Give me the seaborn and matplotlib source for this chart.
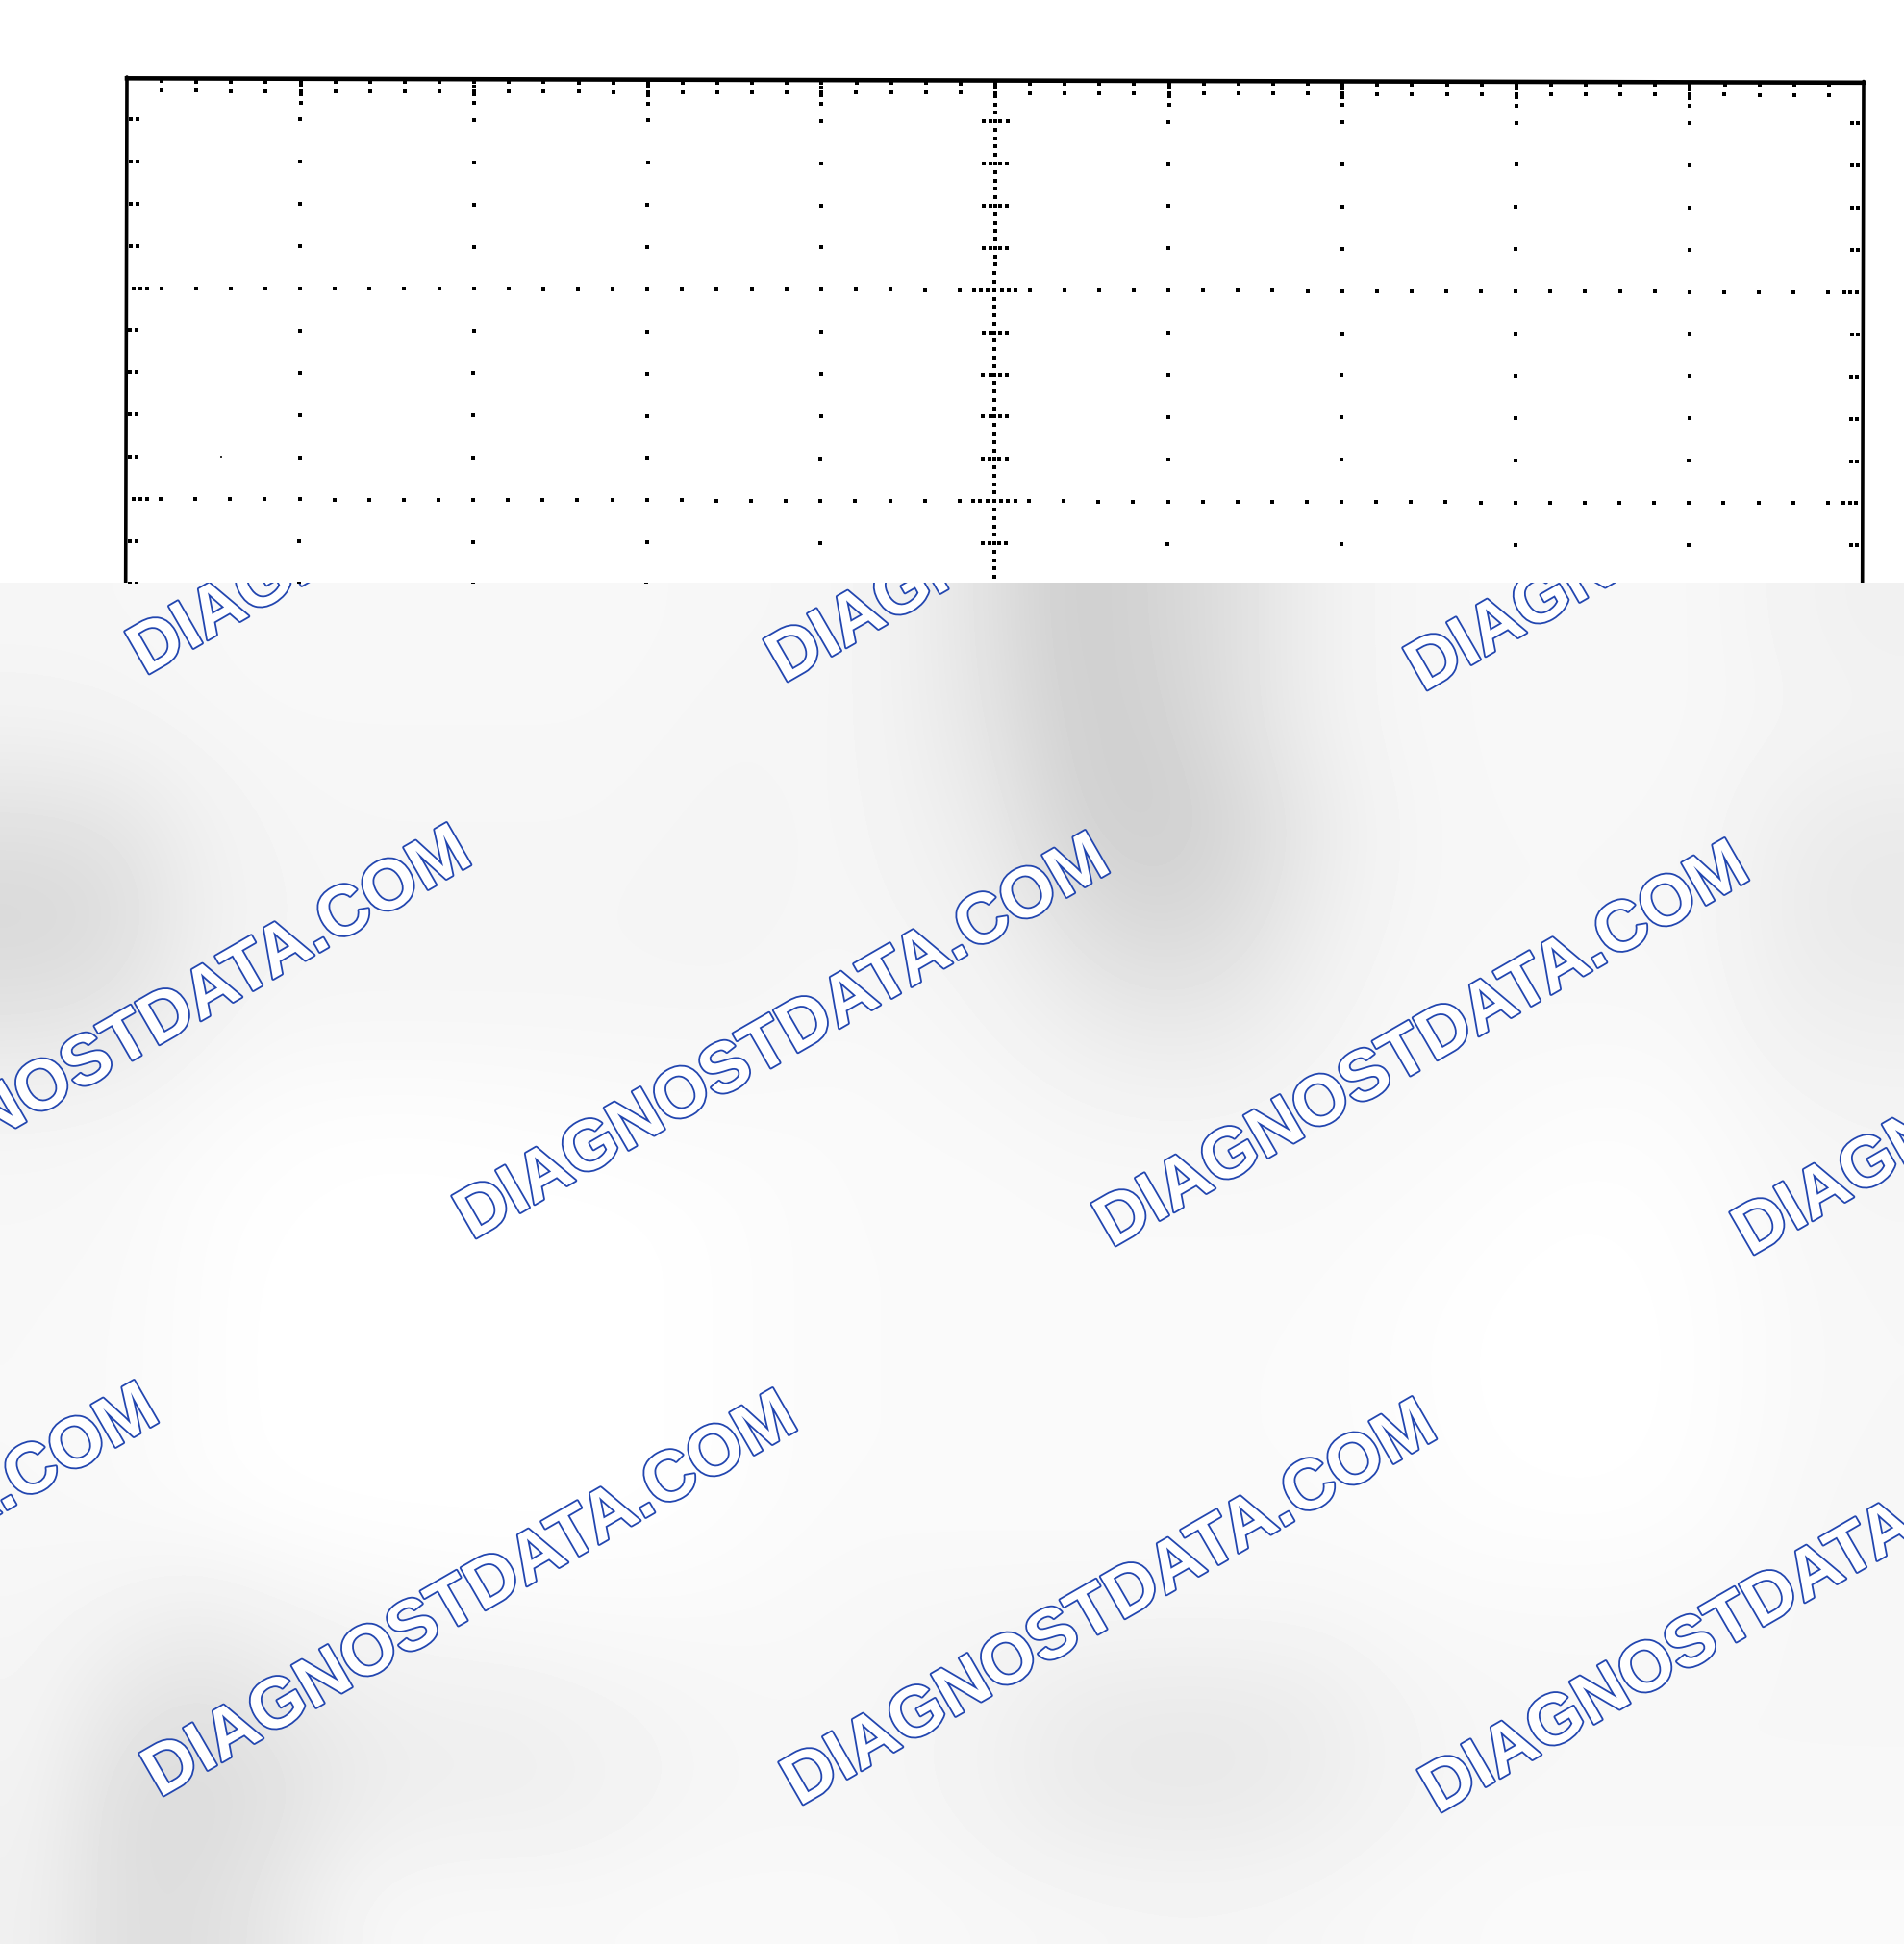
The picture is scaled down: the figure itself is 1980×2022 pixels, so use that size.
import numpy as np
import pandas as pd
import matplotlib
matplotlib.use("Agg")
import matplotlib.pyplot as plt
import matplotlib.patheffects as pe
from matplotlib.transforms import Affine2D
import seaborn as sns

# scope graticule, in divisions
x_major = [0, 1, 2, 3, 4, 5, 6, 7, 8, 9, 10]
y_major = [0, 1, 2]
x_minor_step = 0.2
y_minor_step = 0.2
y_sub_step = 0.04
x_sub_step = 0.04
top_tick_rows = [0.02, 0.065]
left_tick_cols = [0.022, 0.061]
right_tick_cols = [9.935, 9.968]
left_major_cols = [0.044, 0.081, 0.12]
right_major_cols = [9.89, 9.927, 9.964]
center_row_offsets = [-0.065, -0.025, 0.03, 0.07]
speck_x = [0.55]
speck_y = [1.80]

# blurred grey backdrop below the scan, rows top to bottom
backdrop = [
    [246, 246, 247, 248, 248, 248, 248, 248, 247, 246, 246, 240, 225, 205, 212, 222, 238, 246, 247, 248, 248, 247, 243, 240],
    [242, 244, 246, 247, 247, 247, 247, 247, 246, 245, 246, 240, 228, 208, 208, 222, 238, 246, 247, 248, 248, 247, 245, 243],
    [225, 228, 240, 245, 246, 246, 246, 246, 245, 244, 246, 242, 234, 212, 205, 213, 232, 244, 247, 247, 247, 246, 238, 234],
    [215, 220, 238, 244, 245, 245, 245, 245, 244, 244, 246, 244, 240, 225, 215, 220, 236, 245, 247, 247, 247, 246, 236, 232],
    [228, 232, 242, 246, 246, 246, 246, 246, 246, 246, 248, 247, 244, 238, 232, 234, 242, 247, 248, 248, 248, 247, 240, 238],
    [245, 246, 249, 252, 253, 253, 252, 251, 250, 250, 250, 249, 248, 246, 245, 245, 247, 248, 249, 251, 252, 250, 246, 244],
    [247, 248, 252, 254, 255, 255, 255, 255, 254, 252, 250, 250, 250, 249, 249, 249, 249, 250, 252, 254, 254, 252, 248, 246],
    [248, 249, 252, 255, 255, 255, 255, 255, 254, 252, 250, 250, 250, 250, 250, 250, 250, 252, 254, 255, 255, 253, 249, 247],
    [248, 249, 252, 255, 255, 255, 255, 255, 254, 252, 250, 250, 250, 250, 250, 250, 250, 252, 254, 255, 255, 253, 249, 247],
    [248, 249, 252, 254, 255, 255, 255, 255, 254, 252, 250, 250, 250, 250, 250, 250, 250, 251, 253, 254, 254, 252, 248, 246],
    [246, 244, 240, 244, 247, 249, 250, 250, 250, 249, 248, 247, 247, 247, 247, 247, 247, 248, 249, 249, 249, 248, 247, 246],
    [244, 232, 225, 232, 238, 240, 240, 243, 245, 247, 247, 245, 242, 236, 234, 234, 236, 243, 246, 247, 247, 247, 247, 247],
    [242, 222, 218, 224, 234, 238, 238, 240, 244, 246, 246, 245, 241, 234, 232, 232, 236, 242, 246, 247, 247, 247, 247, 247],
    [240, 222, 222, 232, 246, 248, 248, 248, 249, 249, 249, 248, 247, 246, 245, 245, 246, 248, 249, 250, 250, 250, 250, 250],
]

# watermark anchors in pixels
wm_text = "DIAGNOSTDATA.COM"
wm_x = [151, 815, 1480, -173, 491, 1156, 1820, -498, 166, 831, 1495]
wm_y = [703, 711, 720, 1282, 1290, 1298, 1307, 1862, 1870, 1879, 1887]

W, H = 1980, 2022
SPLIT = 606
X0, Y0 = 132, 80
DX, DY = 180.6, 219.5
TILT = -0.143

sns.set_theme(style="white")
plt.rcParams["font.family"] = ["Liberation Sans", "DejaVu Sans"]

fig = plt.figure(figsize=(W / 100, H / 100), dpi=100, facecolor="white")

# lower part: backdrop and watermark
bg = fig.add_axes([0, 0, 1, 1])
bg.imshow(np.array(backdrop), cmap="gray", vmin=0, vmax=255, interpolation="bicubic",
          extent=(0, W, H, SPLIT), aspect="auto", zorder=1)
bg.set_xlim(0, W)
bg.set_ylim(H, 0)
bg.axis("off")
for x, y in zip(wm_x, wm_y):
    bg.text(x, y, wm_text, fontsize=52.7, fontweight="bold", rotation=30, rotation_mode="anchor",
            ha="left", va="baseline", color="white", zorder=3, clip_on=True,
            path_effects=[pe.Stroke(linewidth=2.6, foreground="#2246b0"), pe.Normal()])

# upper part: the scanned scope screen
ax = fig.add_axes([0, 1 - SPLIT / H, 1, SPLIT / H], facecolor="white", zorder=5)

x_minor = np.arange(0, 10 + 1e-6, x_minor_step)
y_minor = np.arange(0, 2.6 + 1e-6, y_minor_step)
y_sub = np.arange(y_sub_step, 2.6, y_sub_step)
x_sub = np.arange(4.88, 5.15, x_sub_step)

rows = []
for xm in x_major[1:-1]:
    if xm == 5:
        continue
    rows += [(xm, y) for y in y_minor[1:]]
    rows += [(xm, y) for y in (0.04, 0.08, 0.12)]
rows += [(5, y) for y in y_sub]
for ym in y_major[1:]:
    rows += [(x, ym) for x in x_minor[1:-1]]
    rows += [(x, ym) for x in x_sub]
    rows += [(x, ym) for x in left_major_cols + right_major_cols]
for x in x_minor[1:-1]:
    rows += [(x, y) for y in top_tick_rows]
for y in y_minor[1:]:
    if abs(y - round(y)) < 1e-6:
        continue
    rows += [(x, y) for x in left_tick_cols + right_tick_cols]
    rows += [(5 + o, y) for o in center_row_offsets]
dots = pd.DataFrame(rows, columns=["x", "y"])

ax.set_xlim(-X0 / DX, (W - X0) / DX)
ax.set_ylim((SPLIT - Y0) / DY, -Y0 / DY)
tilt = ax.transData + Affine2D().rotate_deg_around(X0, H - Y0, TILT)

sns.scatterplot(data=dots, x="x", y="y", marker="s", s=10, color="black", linewidth=0,
                legend=False, ax=ax, transform=tilt)
sns.scatterplot(x=speck_x, y=speck_y, marker="s", s=0.8, color="#333333", linewidth=0,
                legend=False, ax=ax, transform=tilt)

# frame lines of the screen
ax.plot([0, 10], [0.006, 0.006], color="black", lw=3.3, transform=tilt, solid_capstyle="projecting")
ax.plot([0, 0], [0, 2.6], color="black", lw=2.6, transform=tilt)
ax.plot([10, 10], [0, 2.6], color="black", lw=2.6, transform=tilt)

ax.set_xlim(-X0 / DX, (W - X0) / DX)
ax.set_ylim((SPLIT - Y0) / DY, -Y0 / DY)
ax.set_xlabel("")
ax.set_ylabel("")
ax.set_xticks([])
ax.set_yticks([])
for s in ax.spines.values():
    s.set_visible(False)

fig.savefig("out.png", dpi=100, facecolor="white")
